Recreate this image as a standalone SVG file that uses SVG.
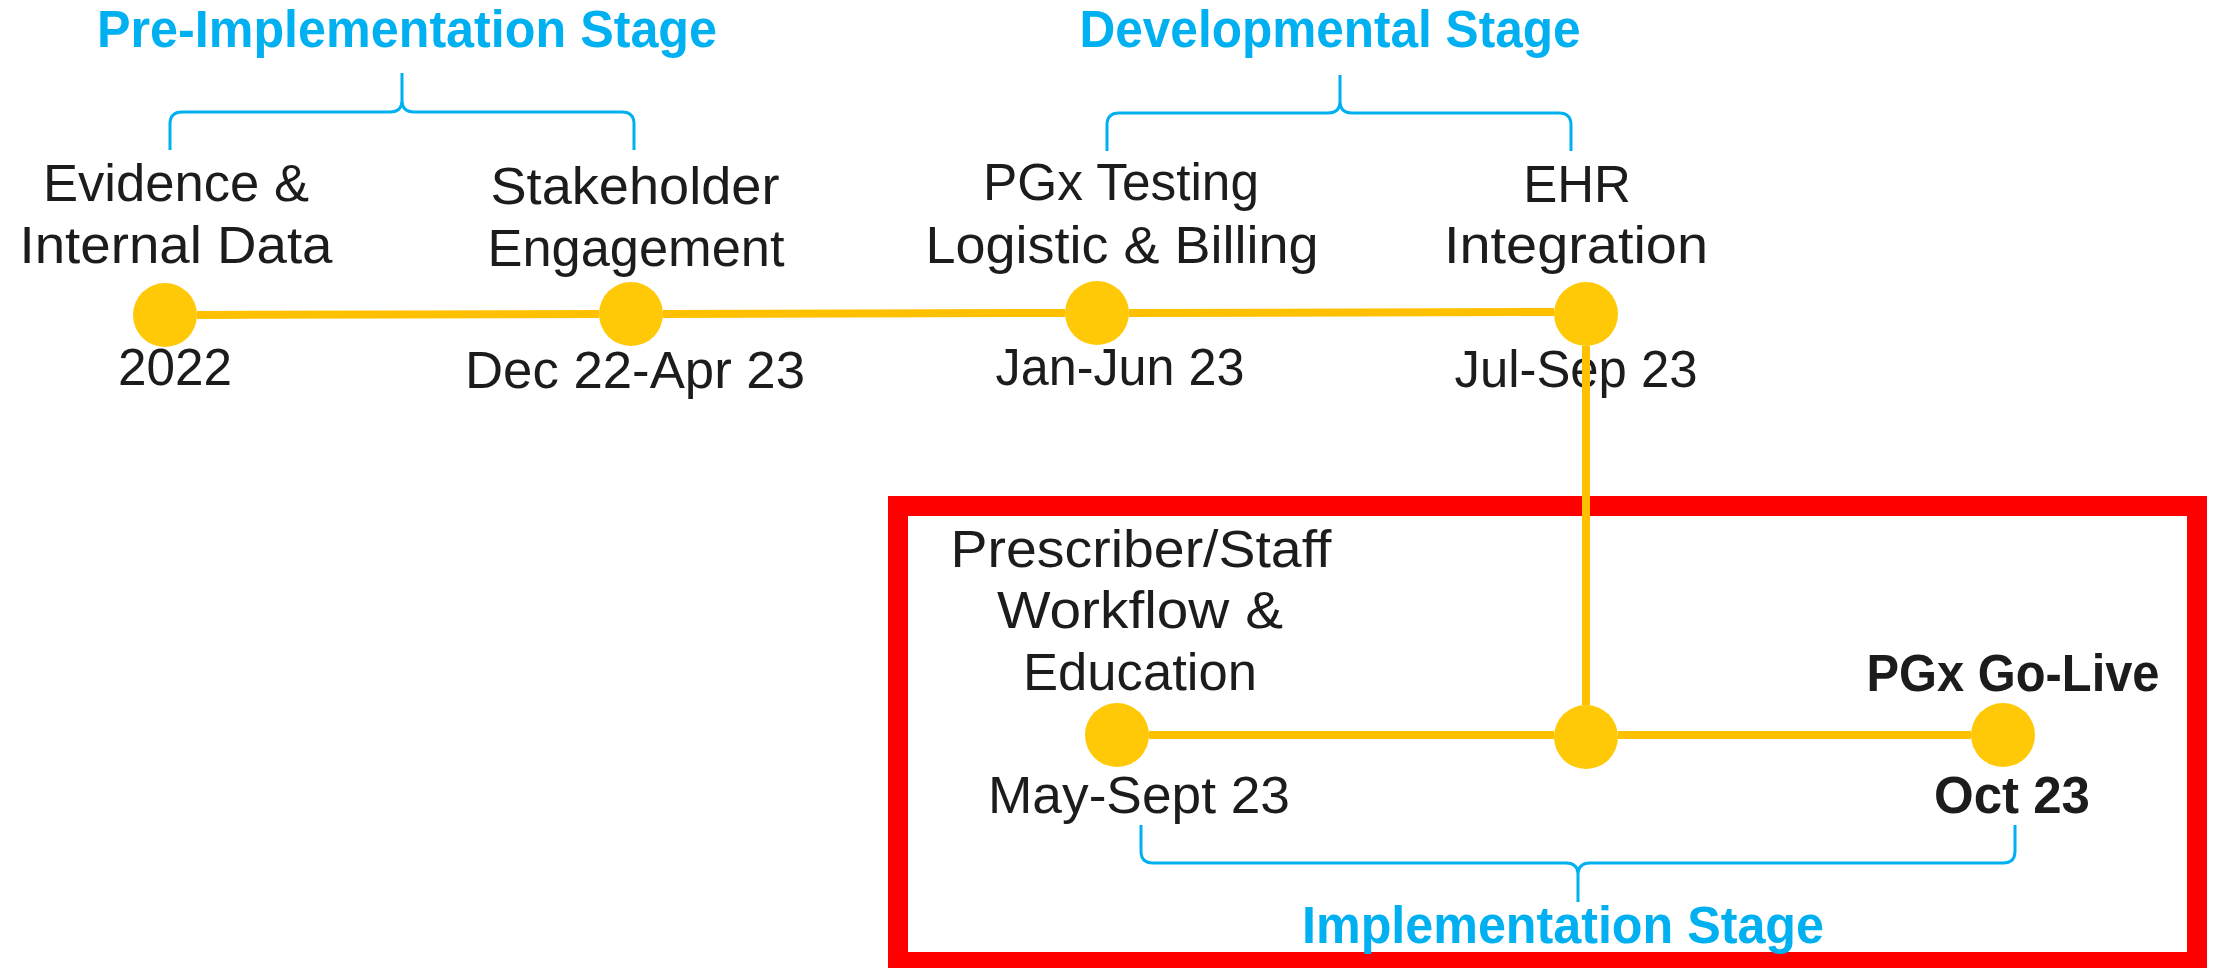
<svg xmlns="http://www.w3.org/2000/svg" width="2218" height="968" viewBox="0 0 2218 968">
<style>
.t{font-family:"Liberation Sans",Arial,sans-serif;font-size:51px;fill:#1c1c1c;text-anchor:middle}
.b{font-weight:bold}
.s{font-family:"Liberation Sans",Arial,sans-serif;font-size:51px;font-weight:bold;fill:#00b0f0;text-anchor:middle}
.dot{fill:#ffc907}
.ln{stroke:#ffc000;stroke-width:8;fill:none}
.br{stroke:#00b0f0;stroke-width:3;fill:none}
</style>
<rect width="2218" height="968" fill="#fff"/>
<g id="frame"><rect x="898" y="506" width="1299" height="456" fill="none" stroke="#ff0000" stroke-width="20"/></g>
<g id="stages">
<text class="s" x="407" y="47" textLength="620" lengthAdjust="spacingAndGlyphs">Pre-Implementation Stage</text>
<path class="br" d="M170,150 V124 Q170,112 182,112 H390 Q402,112 402,100 V73 M402,100 Q402,112 414,112 H622 Q634,112 634,124 V150"/>
<text class="s" x="1330" y="47" textLength="501" lengthAdjust="spacingAndGlyphs">Developmental Stage</text>
<path class="br" d="M1107,151 V125 Q1107,113 1119,113 H1328 Q1340,113 1340,101 V75 M1340,101 Q1340,113 1352,113 H1559 Q1571,113 1571,125 V151"/>
<text class="s" x="1563" y="943" textLength="522" lengthAdjust="spacingAndGlyphs">Implementation Stage</text>
<path class="br" d="M1141,825 V851 Q1141,863 1153,863 H1566 Q1578,863 1578,875 V902 M1578,875 Q1578,863 1590,863 H2003 Q2015,863 2015,851 V825"/>
</g>
<g id="n1">
<circle class="dot" cx="165" cy="315" r="32"/>
<text class="t" x="176" y="201" textLength="266" lengthAdjust="spacingAndGlyphs">Evidence &amp;</text>
<text class="t" x="176" y="263" textLength="313" lengthAdjust="spacingAndGlyphs">Internal Data</text>
<text class="t" x="175" y="385" textLength="114" lengthAdjust="spacingAndGlyphs">2022</text>
</g>
<g id="n2">
<circle class="dot" cx="631" cy="314" r="32"/>
<text class="t" x="635" y="204" textLength="289" lengthAdjust="spacingAndGlyphs">Stakeholder</text>
<text class="t" x="636" y="266" textLength="297" lengthAdjust="spacingAndGlyphs">Engagement</text>
<text class="t" x="635" y="388" textLength="340" lengthAdjust="spacingAndGlyphs">Dec 22-Apr 23</text>
</g>
<g id="n3">
<circle class="dot" cx="1097" cy="313" r="32"/>
<text class="t" x="1121" y="200" textLength="276" lengthAdjust="spacingAndGlyphs">PGx Testing</text>
<text class="t" x="1122" y="263" textLength="393" lengthAdjust="spacingAndGlyphs">Logistic &amp; Billing</text>
<text class="t" x="1120" y="385" textLength="249" lengthAdjust="spacingAndGlyphs">Jan-Jun 23</text>
</g>
<g id="n4">
<circle class="dot" cx="1586" cy="314" r="32"/>
<text class="t" x="1577" y="202">EHR</text>
<text class="t" x="1576" y="263" textLength="264" lengthAdjust="spacingAndGlyphs">Integration</text>
<text class="t" x="1576" y="387" textLength="243" lengthAdjust="spacingAndGlyphs">Jul-Sep 23</text>
</g>
<g id="n5">
<circle class="dot" cx="1117" cy="735" r="32"/>
<text class="t" x="1141" y="567" textLength="381" lengthAdjust="spacingAndGlyphs">Prescriber/Staff</text>
<text class="t" x="1140" y="628" textLength="286" lengthAdjust="spacingAndGlyphs">Workflow &amp;</text>
<text class="t" x="1140" y="690" textLength="234" lengthAdjust="spacingAndGlyphs">Education</text>
<text class="t" x="1139" y="813" textLength="302" lengthAdjust="spacingAndGlyphs">May-Sept 23</text>
</g>
<g id="n6">
<circle class="dot" cx="1586" cy="737" r="32"/>
</g>
<g id="n7">
<circle class="dot" cx="2003" cy="735" r="32"/>
<text class="t b" x="2013" y="691" textLength="293" lengthAdjust="spacingAndGlyphs">PGx Go-Live</text>
<text class="t b" x="2012" y="813" textLength="156" lengthAdjust="spacingAndGlyphs">Oct 23</text>
</g>
<g id="connectors">
<path class="ln" d="M197,315 L599,314"/>
<path class="ln" d="M663,314 L1065,313"/>
<path class="ln" d="M1129,313 L1554,312"/>
<path class="ln" d="M1586,346 V705"/>
<path class="ln" d="M1149,735 H1554"/>
<path class="ln" d="M1618,735 H1971"/>
</g>
</svg>
